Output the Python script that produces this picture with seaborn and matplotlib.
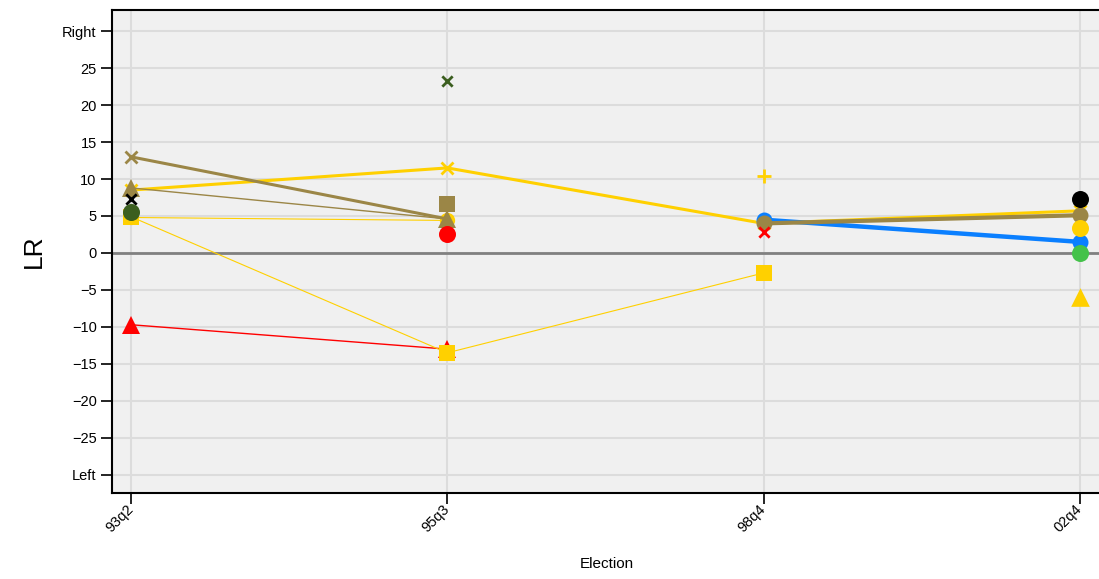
import matplotlib
import matplotlib.pyplot as plt
import numpy as np
import pandas as pd
import seaborn as sns

matplotlib.use('Agg')

# 数据
elections = ['93q2', '95q3', '98q4', '02q4']
nan = np.nan

# 连线的序列（按选举顺序）
yellow_main = [8.5, 11.5, 4.0, 5.7]
tan_thick_a = [13.0, 4.6, nan, nan]
tan_thin = [8.8, 4.6, nan, nan]
tan_thick_b = [nan, nan, 4.0, 5.1]
yellow_thin_a = [4.8, 4.4, nan, nan]
yellow_thin_b = [4.9, -13.5, -2.7, nan]
red_thin = [-9.7, -13.0, nan, nan]
blue_line = [nan, nan, 4.5, 1.5]

# 单独的点
black_x = [7.3, nan, nan, nan]
black_circle = [nan, nan, nan, 7.3]
dkgreen_circle = [5.5, nan, nan, nan]
dkgreen_x = [nan, 23.2, nan, nan]
tan_square = [nan, 6.6, nan, nan]
red_circle = [nan, 2.6, nan, nan]
red_x = [nan, nan, 2.8, nan]
yellow_plus = [nan, nan, 10.4, nan]
yellow_circle = [nan, nan, nan, 3.4]
yellow_tri = [nan, nan, nan, -6.0]
green_circle = [nan, nan, nan, 0.0]

y_ticks = [-30, -25, -20, -15, -10, -5, 0, 5, 10, 15, 20, 25, 30]
y_tick_labels = ['Left', '\u221225', '\u221220', '\u221215', '\u221210', '\u22125', '0',
                 '5', '10', '15', '20', '25', 'Right']

GOLD = '#FFD000'
TAN = '#9B8646'
DKGREEN = '#3B5E1F'
RED = '#FF0000'
BLUE = '#0A7FFF'
GREEN = '#44C24A'

sns.set_theme(style='whitegrid', rc={
    'axes.facecolor': '#F0F0F0',
    'grid.color': '#DCDCDC',
    'grid.linewidth': 1.5,
    'axes.edgecolor': 'black',
    'axes.linewidth': 1.5,
    'text.color': 'black',
    'axes.labelcolor': 'black',
    'xtick.color': 'black',
    'ytick.color': 'black',
})
plt.rcParams['font.family'] = ['Liberation Sans', 'DejaVu Sans']

fig = plt.figure(figsize=(10.99, 5.79), dpi=100)
ax = fig.add_axes([112 / 1099, 86 / 579, 990 / 1099, 483 / 579])

x = np.arange(len(elections))


def frame(vals):
    return pd.DataFrame({'pos': x, 'LR': vals}).dropna()


# 零线
ax.axhline(0, color='#808080', linewidth=2, zorder=1.5)

# 连线（先画的在下面）
lines = [
    (red_thin, RED, 1.0, '^', 13, None),
    (yellow_thin_b, GOLD, 0.8, 's', 12, None),
    (yellow_thin_a, GOLD, 0.8, 'o', 11, None),
    (yellow_main, GOLD, 2.2, 'x', 8, None),
    (tan_thick_a, TAN, 2.2, 'x', 8, [0]),
    (tan_thin, TAN, 1.0, '^', 13, None),
    (blue_line, BLUE, 3.2, 'o', 11.5, None),
    (tan_thick_b, TAN, 3.0, 'o', 11.5, None),
]
for vals, col, lw, mk, ms, every in lines:
    sns.lineplot(data=frame(vals), x='pos', y='LR', color=col, linewidth=lw,
                 marker=mk, markersize=ms, markeredgewidth=2 if mk == 'x' else 0,
                 markeredgecolor=col, markevery=every, ax=ax, zorder=3)

# 单独的点
points = [
    (black_x, 'black', 'x'),
    (black_circle, 'black', 'o'),
    (dkgreen_circle, DKGREEN, 'o'),
    (dkgreen_x, DKGREEN, 'x'),
    (tan_square, TAN, 's'),
    (red_circle, RED, 'o'),
    (red_x, RED, 'x'),
    (yellow_plus, GOLD, '+'),
    (yellow_circle, GOLD, 'o'),
    (yellow_tri, GOLD, '^'),
    (green_circle, GREEN, 'o'),
]
size = {'o': 150, 's': 120, '^': 180, 'x': 55, '+': 110}
for vals, col, mk in points:
    lw = 2 if mk in ('x', '+') else 0
    sns.scatterplot(data=frame(vals), x='pos', y='LR', color=col, marker=mk,
                    s=size[mk], linewidth=lw, ax=ax, zorder=3.5)

# 坐标轴
ax.set_xlim(-0.06, 3.07)
ax.set_ylim(-32.45, 32.85)
ax.set_xticks(x)
ax.set_xticklabels(elections, rotation=45, ha='right', va='center', rotation_mode='anchor')
ax.set_yticks(y_ticks)
ax.set_yticklabels(y_tick_labels)
ax.tick_params(axis='both', direction='out', length=8, width=1.2, color='black',
               labelsize=10.5, labelcolor='black', pad=3, left=True, bottom=True)
ax.tick_params(axis='x', pad=2)
ax.spines['right'].set_visible(False)

ax.set_xlabel('Election', fontsize=11, labelpad=16)
ax.set_ylabel('LR', fontsize=19, labelpad=12)

plt.savefig('out.png', dpi=100)
